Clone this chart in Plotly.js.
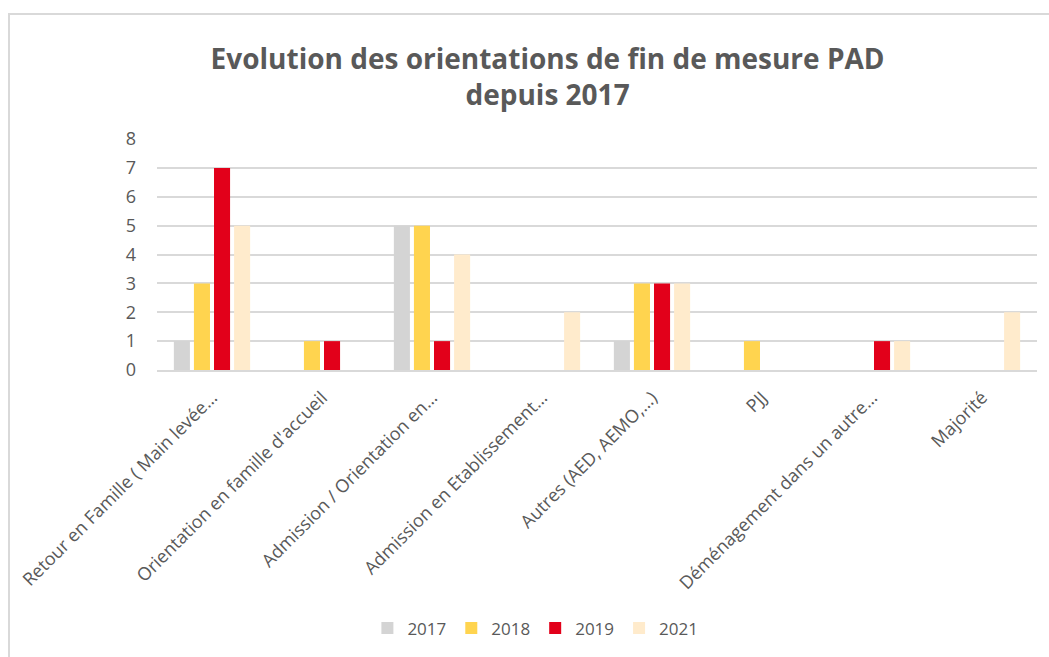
<!DOCTYPE html>
<html>
<head>
<meta charset="utf-8">
<script src="https://cdn.plot.ly/plotly-3.0.1.min.js"></script>
<style>
html,body{margin:0;padding:0;background:#fff;}
#frame{position:absolute;left:8px;top:13px;width:1100px;height:700px;border-top:2px solid #d9d9d9;border-left:2px solid #d9d9d9;box-sizing:border-box;}
#chart{position:absolute;left:0;top:0;width:1049px;height:657px;}
</style>
</head>
<body>
<div id="frame"></div>
<div id="chart"></div>
<script>
const categories = [
  "Retour en Famille ( Main levée…",
  "Orientation en famille d'accueil",
  "Admission / Orientation en…",
  "Admission en Etablissement…",
  "Autres (AED, AEMO,…)",
  "PJJ",
  "Déménagement dans un autre…",
  "Majorité"
];
const years = ["2017", "2018", "2019", "2021"];
const v2017 = [1, 0, 5, 0, 1, 0, 0, 0];
const v2018 = [3, 1, 5, 0, 3, 1, 0, 0];
const v2019 = [7, 1, 1, 0, 3, 0, 1, 0];
const v2021 = [5, 0, 4, 2, 3, 0, 1, 2];
const colors = ["#d4d4d4", "#ffd44f", "#e2001a", "#ffebcc"];
const tickVals = [0, 1, 2, 3, 4, 5, 6, 7, 8];

const series = [v2017, v2018, v2019, v2021];
const traces = series.map((vals, i) => ({
  type: "bar",
  name: years[i],
  x: categories,
  y: vals,
  marker: {color: colors[i], line: {width: 0}},
  hoverinfo: "x+y+name"
}));

const layout = {
  width: 1049,
  height: 657,
  paper_bgcolor: "rgba(0,0,0,0)",
  plot_bgcolor: "rgba(0,0,0,0)",
  margin: {l: 157, r: 12, t: 139, b: 286},
  font: {family: "Open Sans, sans-serif", color: "#595959", size: 17},
  title: {
    text: "<b>Evolution des orientations de fin de mesure PAD<br>depuis 2017</b>",
    font: {family: "Open Sans, sans-serif", size: 28, color: "#595959"},
    x: 0.522, xanchor: "center",
    y: 0.895, yanchor: "middle"
  },
  barmode: "group",
  bargap: 0.27,
  bargroupgap: 0.2,
  xaxis: {
    type: "category",
    tickangle: -45,
    showgrid: false,
    showline: true,
    linecolor: "#d9d9d9",
    linewidth: 2,
    ticks: "",
    ticklabelstandoff: 8,
    tickfont: {size: 18, color: "#595959"},
    automargin: false
  },
  yaxis: {
    range: [0, 8],
    tickvals: tickVals,
    showgrid: true,
    gridcolor: "#d9d9d9",
    gridwidth: 2,
    zeroline: false,
    showline: false,
    ticks: "",
    ticklabelstandoff: 20,
    tickfont: {size: 18, color: "#595959"},
    automargin: false
  },
  showlegend: true,
  legend: {
    orientation: "h",
    x: 0.43, xanchor: "center",
    y: -1.11, yanchor: "middle",
    font: {size: 17, color: "#595959"},
    itemwidth: 30,
    traceorder: "normal"
  }
};

Plotly.newPlot("chart", traces, layout, {displayModeBar: false, responsive: false});
</script>
</body>
</html>
